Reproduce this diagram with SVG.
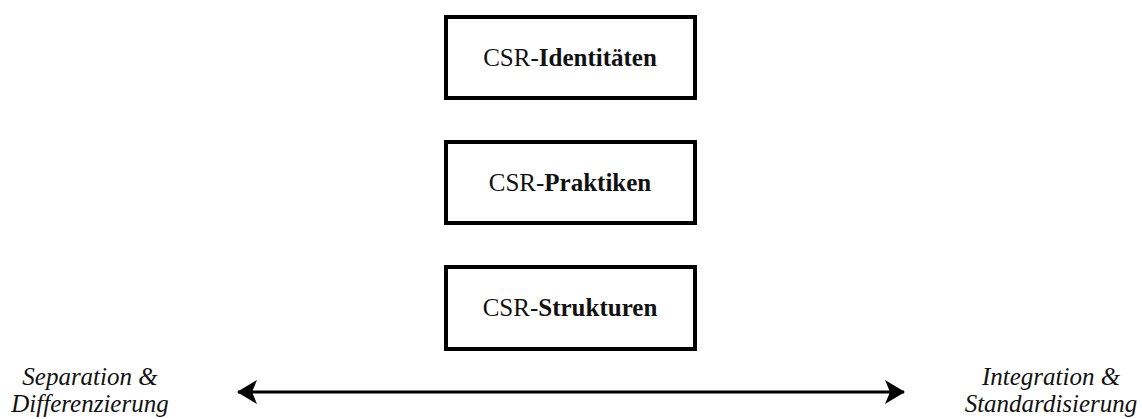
<svg xmlns="http://www.w3.org/2000/svg" width="1142" height="419" viewBox="0 0 1142 419">
<style>
.box{fill:#fff;stroke:#000;stroke-width:4}
.t{font-family:"Liberation Serif","Times New Roman",serif;font-size:25px;fill:#111;text-anchor:middle}
.b{font-weight:bold}
.lbl{font-family:"Liberation Serif","Times New Roman",serif;font-size:25px;font-style:italic;fill:#111;text-anchor:middle}
.conn{stroke:#000;stroke-width:3;fill:none}
</style>
<defs>
<marker id="ah" viewBox="0 0 20 24" refX="19" refY="12" markerWidth="20" markerHeight="24" markerUnits="userSpaceOnUse" orient="auto-start-reverse">
<path d="M0,0 L20,12 L0,24 L5,12 Z" fill="#000"/>
</marker>
</defs>
<rect width="1142" height="419" fill="#fff"/>
<g id="node-identitaeten">
<rect class="box" x="446" y="17" width="249" height="81"/>
<text class="t" x="570" y="66">CSR-<tspan class="b">Identitäten</tspan></text>
</g>
<g id="node-praktiken">
<rect class="box" x="446" y="142" width="249" height="81"/>
<text class="t" x="570" y="191">CSR-<tspan class="b">Praktiken</tspan></text>
</g>
<g id="node-strukturen">
<rect class="box" x="446" y="267" width="249" height="82"/>
<text class="t" x="570" y="316">CSR-<tspan class="b">Strukturen</tspan></text>
</g>
<g id="label-left">
<text class="lbl" x="90" y="385">Separation &amp;</text>
<text class="lbl" x="90" y="412">Differenzierung</text>
</g>
<g id="label-right">
<text class="lbl" x="1051" y="385">Integration &amp;</text>
<text class="lbl" x="1051" y="412">Standardisierung</text>
</g>
<g id="connectors">
<line class="conn" x1="238" y1="392" x2="904" y2="392" marker-start="url(#ah)" marker-end="url(#ah)"/>
</g>
</svg>
